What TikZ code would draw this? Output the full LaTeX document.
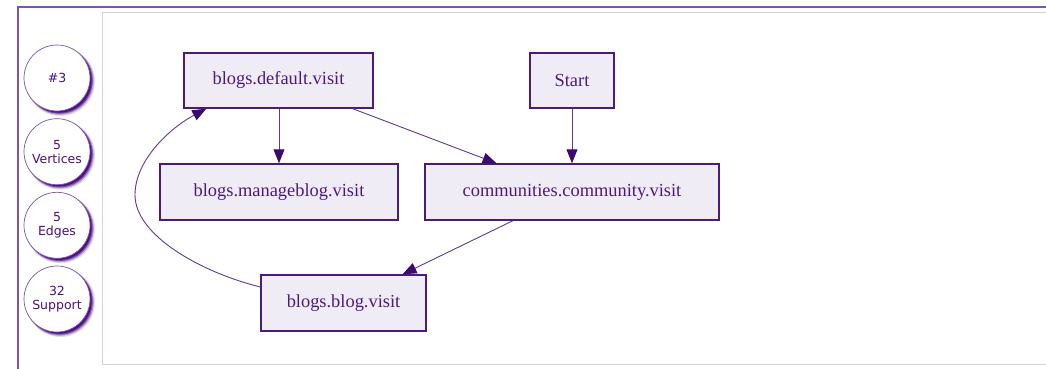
\documentclass[tikz,border=0pt]{standalone}
\usepackage{fontspec}
\setmainfont{Liberation Serif}
\newfontfamily\circfont{DejaVu Sans}
\usetikzlibrary{arrows.meta,calc}
\definecolor{nodefill}{HTML}{F0ECF5}
\definecolor{nodeline}{HTML}{4B1A7F}
\definecolor{edgeline}{HTML}{5E3A94}
\definecolor{tipcol}{HTML}{3C0A6E}
\definecolor{frameout}{HTML}{7A55A8}
\definecolor{framein}{HTML}{D9D0E6}
\definecolor{circtext}{HTML}{4B0F82}
\begin{document}
\begin{tikzpicture}[x=1pt,y=-1pt,
  vbox/.style={draw=nodeline,fill=nodefill,line width=1.4pt,inner sep=0pt,
    text=nodeline,font=\fontsize{18.4}{22}\selectfont,minimum height=55pt},
  stat/.style={circle,draw=frameout,line width=0.7pt,fill=white,minimum size=66pt,inner sep=0pt,
    text=circtext,align=center,font=\circfont\fontsize{12.5}{14}\selectfont},
  shadowdisc/.style={fill=circtext},
  edge/.style={draw=edgeline,line width=0.9pt,-{Triangle[length=14pt,width=11pt,fill=tipcol,color=tipcol]}}]
\useasboundingbox (0,0) rectangle (1046,369);
\clip (0,0) rectangle (1046,369);
\fill[white] (0,0) rectangle (1046,369);
% frames
\draw[frameout,line width=2pt] (17.5,380) -- (17.5,7) -- (1060,7);
\draw[framein,line width=1.2pt] (1060,12.5) -- (102.5,12.5) -- (102.5,364.5) -- (1060,364.5);
% circle shadows
\foreach \cy in {78,151.7,225.3,299}{
  \fill[shadowdisc,opacity=0.15] (60.5,\cy+3.5) circle (34.5);
  \fill[shadowdisc,opacity=0.3] (60,\cy+3) circle (33.8);
  \fill[shadowdisc,opacity=0.6] (59.5,\cy+2.5) circle (33.2);
  \fill[shadowdisc] (59,\cy+2) circle (32.6);
}
% stat circles
\node[stat] (s1) at (57,78) {\#3};
\node[stat] (s2) at (57,151.7) {5\\Vertices};
\node[stat] (s3) at (57,225.3) {5\\Edges};
\node[stat] (s4) at (57,299) {32\\Support};
% nodes
\node[vbox,minimum width=189pt] (bd) at (278.5,80.5) {blogs.default.visit};
\node[vbox,minimum width=84pt] (st) at (572,80.5) {Start};
\node[vbox,minimum width=238pt,minimum height=56pt] (bm) at (279,192) {blogs.manageblog.visit};
\node[vbox,minimum width=294pt,minimum height=56pt] (cc) at (572,192) {communities.community.visit};
\node[vbox,minimum width=165pt,minimum height=56pt] (bb) at (343.5,303) {blogs.blog.visit};
% edges
\draw[edge] (bd.south -| bm.north) -- (bm.north);
\draw[edge] (bd) -- (cc);
\draw[edge] (st.south) -- (cc.north -| st.south);
\draw[edge] (cc) -- (bb);
\draw[edge] ([yshift=16pt]bb.west) .. controls (200,272) and (135,235) .. (135,195)
  .. controls (135,160) and (170,128) .. ($(bd.south west)+(23,0)$);
\end{tikzpicture}
\end{document}
